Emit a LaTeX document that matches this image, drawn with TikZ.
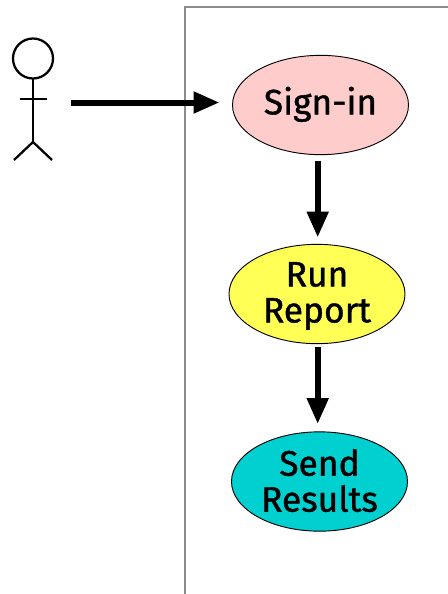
\documentclass[tikz,border=0pt]{standalone}
\usepackage{fontspec}
\setmainfont[RawFeature={embolden=1.2}]{Fira Sans}
\usetikzlibrary{shapes.geometric,arrows.meta}
\definecolor{cpink}{RGB}{255,204,204}
\definecolor{cyel}{RGB}{255,255,85}
\definecolor{ccyan}{RGB}{0,208,208}
\definecolor{cframe}{RGB}{140,140,140}
\newcommand{\nudged}[2]{\raisebox{#1}[\height][\depth]{#2}}
\tikzset{x=0.75pt,y=-0.75pt,
 uc/.style={ellipse,draw=black,line width=0.7pt,inner sep=0,minimum width=132pt,minimum height=74.5pt,align=center,font=\fontsize{26.5}{27}\selectfont,text=black},
 flow/.style={line width=4.5pt,-{Triangle[length=19.5pt,width=15.5pt]}},
 fig/.style={line width=1.7pt,black}}
\begin{document}
\begin{tikzpicture}
\useasboundingbox (0,0) rectangle (448,594);
\fill[white] (0,0) rectangle (448,594);
\draw[line width=1.5pt,cframe] (448,6.5) -- (185,6.5) -- (185,594);
\node[uc,fill=cpink] (a) at (320.5,105) {\nudged{0.5pt}{Sign-in}};
\node[uc,fill=cyel] (b) at (317,294) {\nudged{-1.5pt}{Run}\\\nudged{-1.5pt}{Report}};
\node[uc,fill=ccyan] (c) at (319.5,481.5) {\nudged{0.7pt}{Send}\\\nudged{0.7pt}{Results}};
\coordinate (s1) at (317.7,160.5);
\coordinate (e1) at (317.7,237.5);
\coordinate (s2) at (317.7,347);
\coordinate (e2) at (317.7,424);
\coordinate (h) at (71,102.5);
\coordinate (e0) at (219.5,102.5);
\draw[flow] (h) -- (e0);
\draw[flow] (s1) -- (e1);
\draw[flow] (s2) -- (e2);
\draw[fig] (33,58.5) circle[radius=20];
\draw[fig] (33,78.5) -- (33,142);
\draw[fig] (20,99) -- (46.5,99);
\draw[fig] (14,160) -- (33,142) -- (52,160);
\end{tikzpicture}
\end{document}
